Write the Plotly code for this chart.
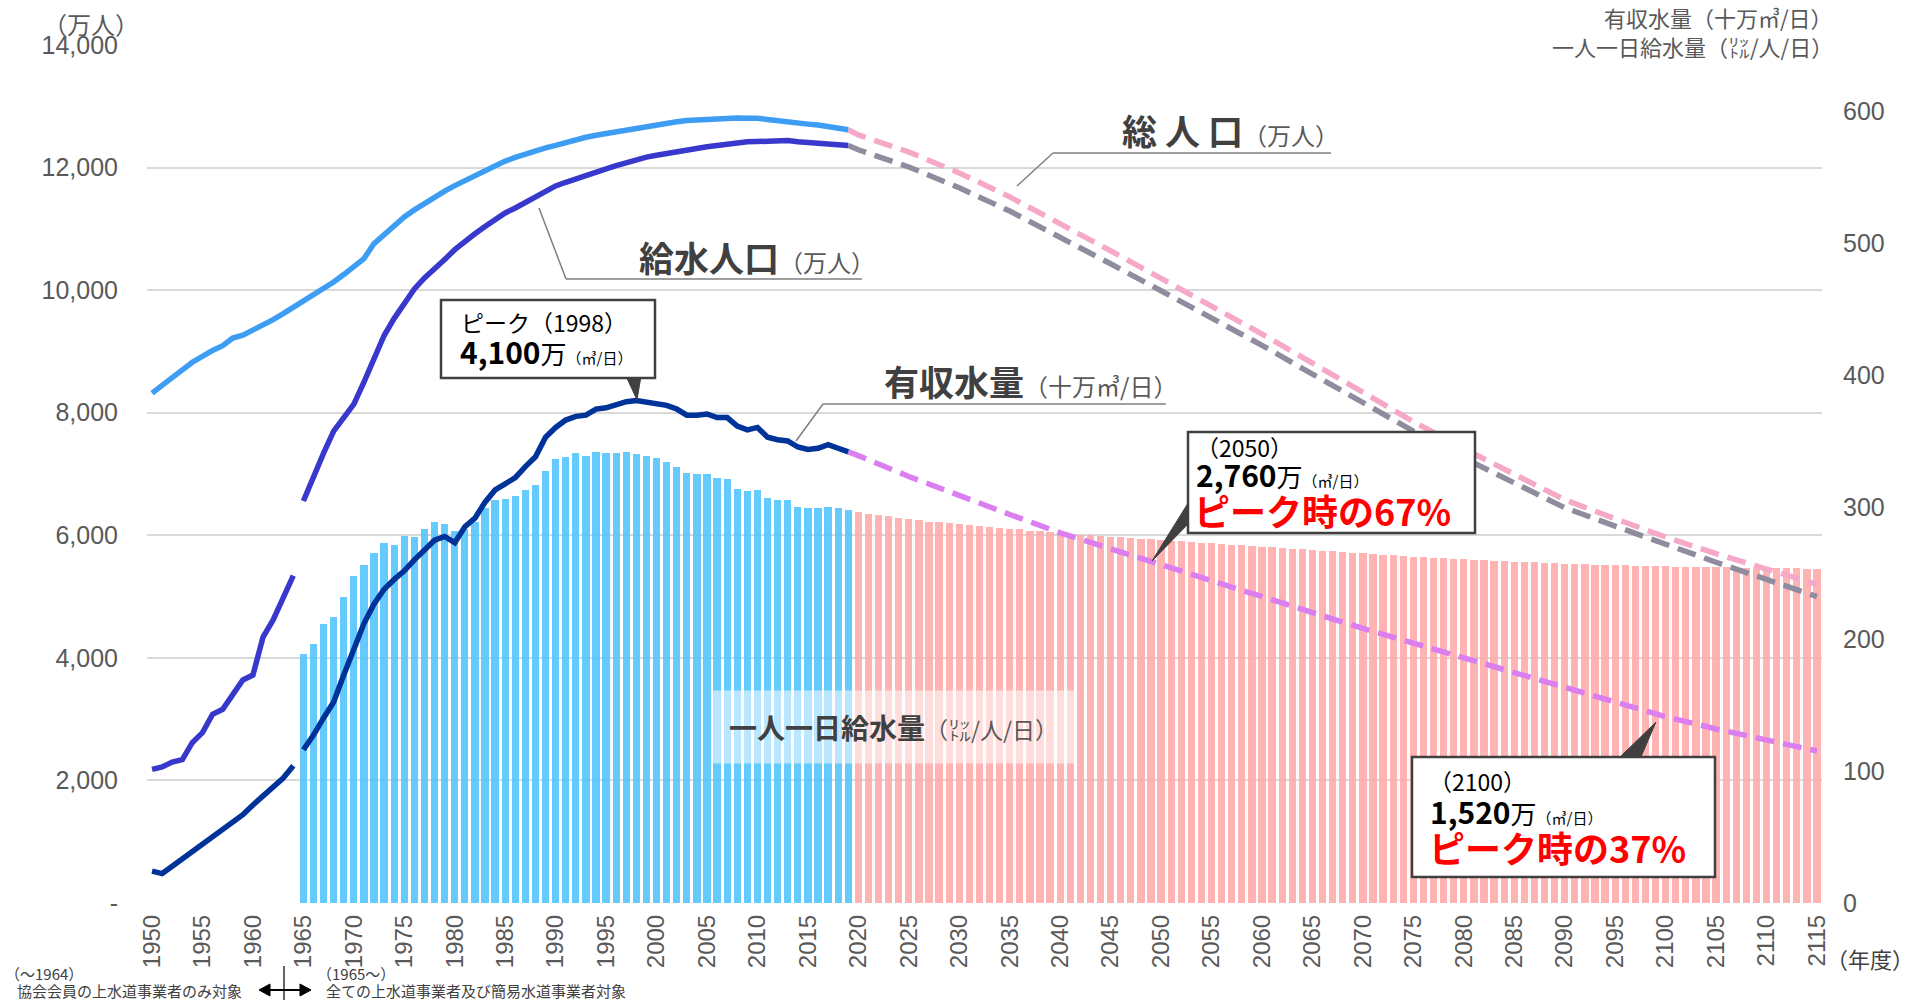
import plotly.graph_objects as go

# ---------------- data ----------------
years_a = list(range(1950, 1965))          # 協会会員のみ対象
years_b = list(range(1965, 2020))          # 全事業者対象
years_hist = list(range(1950, 2020))
years_proj = [2019, 2020, 2025, 2030, 2035, 2040, 2045, 2050, 2055, 2060, 2065,
              2070, 2075, 2080, 2085, 2090, 2095, 2100, 2105, 2110, 2115]
years_bar_proj = list(range(2020, 2116))

# 総人口（万人）
total_pop = [8320, 8454, 8581, 8698, 8824, 8928, 9017, 9093, 9218, 9264,
             9342, 9429, 9518, 9616, 9718, 9828, 9904, 10020, 10133, 10254,
             10372, 10515, 10760, 10910, 11057, 11194, 11309, 11417, 11519, 11616,
             11706, 11790, 11873, 11954, 12031, 12105, 12166, 12224, 12275, 12321,
             12361, 12410, 12457, 12494, 12527, 12557, 12586, 12616, 12649, 12667,
             12693, 12732, 12749, 12769, 12779, 12777, 12790, 12803, 12808, 12803,
             12806, 12783, 12759, 12741, 12724, 12709, 12693, 12671, 12644, 12617]
total_pop_proj = [12617, 12532, 12254, 11913, 11522, 11092, 10642, 10192, 9744, 9284, 8808,
                  8323, 7856, 7413, 6989, 6580, 6270, 5972, 5700, 5440, 5200]

# 給水人口（万人）
supply_pop_a = [2180, 2220, 2300, 2340, 2620, 2780, 3080, 3160, 3400, 3640,
                3720, 4340, 4620, 4980, 5340]
supply_pop_b = [6560, 6980, 7340, 7700, 7920, 8140, 8500, 8900, 9260, 9540,
                9780, 10020, 10200, 10340, 10500, 10660, 10800, 10920, 11040, 11160,
                11260, 11340, 11430, 11520, 11600, 11700, 11760, 11820, 11880, 11930,
                11980, 12030, 12080, 12130, 12170, 12200, 12230, 12270, 12300, 12320,
                12340, 12360, 12390, 12400, 12420, 12430, 12440, 12440, 12440, 12420,
                12410, 12400, 12390, 12370, 12360]
supply_pop_proj = [12360, 12290, 12010, 11670, 11290, 10870, 10430, 9990, 9550, 9100, 8630,
                   8160, 7700, 7260, 6850, 6450, 6150, 5850, 5560, 5280, 5000]

# 有収水量（万㎥/日）
revenue_water_a = [260, 240, 300, 360, 425, 485, 540, 600, 660, 720,
                   800, 870, 940, 1020, 1120]
revenue_water_b = [1250, 1370, 1510, 1640, 1860, 2080, 2280, 2440, 2560, 2640,
                   2710, 2800, 2880, 2960, 2990, 2940, 3070, 3140, 3270, 3370,
                   3420, 3470, 3560, 3640, 3800, 3880, 3940, 3970, 3980, 4030,
                   4040, 4070, 4090, 4100, 4090, 4080, 4060, 4030, 3980, 3980,
                   3990, 3960, 3960, 3890, 3860, 3880, 3800, 3780, 3770, 3720,
                   3700, 3710, 3740, 3710, 3680]
revenue_water_proj = [3680, 3650, 3480, 3320, 3170, 3020, 2890, 2760, 2620, 2490, 2360,
                      2240, 2120, 2000, 1880, 1760, 1640, 1520, 1420, 1330, 1240]

# 一人一日給水量（㍑/人/日）
per_capita_hist = [189, 196, 211, 217, 232, 248, 256, 265, 273, 271,
                   278, 277, 283, 289, 287, 282, 283, 289, 299, 305,
                   306, 308, 313, 317, 327, 336, 338, 341, 339, 342,
                   341, 341, 342, 340, 339, 337, 334, 330, 326, 325,
                   325, 322, 321, 314, 312, 313, 307, 305, 305, 300,
                   299, 299, 300, 299, 298]
per_capita_proj = [296, 295, 294, 293, 292, 291, 290, 289, 288.5, 288,
                   287, 286, 285.5, 285, 284, 283.5, 283, 282, 281.5, 281,
                   280, 279.5, 279, 278.5, 278, 277.5, 277, 276.5, 276, 275.5,
                   275, 274.5, 274, 273.5, 273, 272.5, 272, 271.5, 271, 270.5,
                   270, 269.5, 269, 268.5, 268, 267.5, 267, 266.5, 266, 265.5,
                   265, 264.5, 264, 263.5, 263, 262.5, 262, 261.5, 261, 260.7,
                   260.4, 260, 259.7, 259.4, 259, 258.7, 258.4, 258, 257.7, 257.4,
                   257, 256.8, 256.6, 256.4, 256.2, 256, 255.8, 255.6, 255.4, 255.2,
                   255, 254.8, 254.6, 254.5, 254.4, 254.3, 254.2, 254.1, 254, 253.9,
                   253.8, 253.7, 253.6, 253.5, 253.4, 253.3]

x_ticks = list(range(1950, 2116, 5))
left_ticks = [0, 2000, 4000, 6000, 8000, 10000, 12000, 14000]
left_tick_text = ["-", "2,000", "4,000", "6,000", "8,000", "10,000", "12,000", "14,000"]
right_ticks = [0, 100, 200, 300, 400, 500, 600]

# ---------------- layout helpers ----------------
W, H = 1921, 1001
L, R, T, B = 147, 1822, 45, 903


def px(x):
    return (x - L) / (R - L)


def py(y):
    return (B - y) / (B - T)


JP = "Noto Sans CJK JP"
NUM = "Liberation Sans, Arial, sans-serif"
GRAY = "#595959"
DARK = "#404040"

fig = go.Figure()

# bars (main subplot, right axis)
fig.add_trace(go.Bar(x=years_b, y=per_capita_hist, width=0.72,
                     marker=dict(color="#55C6FF", line=dict(width=0)), opacity=0.9,
                     yaxis="y", xaxis="x"))
fig.add_trace(go.Bar(x=years_bar_proj, y=per_capita_proj, width=0.72,
                     marker=dict(color="#FFABAB", line=dict(width=0)), opacity=0.9,
                     yaxis="y", xaxis="x"))

LW = 5.5
DASH = "19px,9px"
# 総人口
fig.add_trace(go.Scatter(x=years_proj, y=total_pop_proj, mode="lines", yaxis="y2",
                         line=dict(color="#F5A8C8", width=LW, dash=DASH)))
fig.add_trace(go.Scatter(x=years_hist, y=total_pop, mode="lines", yaxis="y2",
                         line=dict(color="#3D9DF3", width=LW)))
# 給水人口
fig.add_trace(go.Scatter(x=years_proj, y=supply_pop_proj, mode="lines", yaxis="y2",
                         line=dict(color="#8E8C9E", width=LW, dash=DASH)))
fig.add_trace(go.Scatter(x=years_a, y=supply_pop_a, mode="lines", yaxis="y2",
                         line=dict(color="#3838CC", width=LW)))
fig.add_trace(go.Scatter(x=years_b, y=supply_pop_b, mode="lines", yaxis="y2",
                         line=dict(color="#3838CC", width=LW)))
# 有収水量
fig.add_trace(go.Scatter(x=years_proj, y=revenue_water_proj, mode="lines", yaxis="y3",
                         line=dict(color="#DA7EF0", width=LW, dash=DASH)))
fig.add_trace(go.Scatter(x=years_a, y=revenue_water_a, mode="lines", yaxis="y3",
                         line=dict(color="#003399", width=LW)))
fig.add_trace(go.Scatter(x=years_b, y=revenue_water_b, mode="lines", yaxis="y3",
                         line=dict(color="#003399", width=LW)))

shapes = []


def pline(pts, color="#7F7F7F", width=1.5):
    for (x0, y0), (x1, y1) in zip(pts[:-1], pts[1:]):
        shapes.append(dict(type="line", xref="paper", yref="paper",
                           x0=px(x0), y0=py(y0), x1=px(x1), y1=py(y1),
                           line=dict(color=color, width=width)))


def tri(pts, color=DARK):
    path = "M " + " L ".join(f"{px(x)},{py(y)}" for x, y in pts) + " Z"
    shapes.append(dict(type="path", xref="paper", yref="paper", path=path,
                       fillcolor=color, line=dict(color=color, width=1)))


def box(x0, y0, x1, y1):
    shapes.append(dict(type="rect", xref="paper", yref="paper",
                       x0=px(x0), y0=py(y0), x1=px(x1), y1=py(y1),
                       fillcolor="white", line=dict(color=DARK, width=2.5)))


# leader lines
pline([(1017, 186), (1053, 153), (1331, 153)])
pline([(539, 208), (566, 279), (862, 279)])
pline([(796, 441), (823, 404), (1166, 404)])

# callout boxes
tri([(626, 376), (641, 376), (637, 400)])
box(441, 300, 655, 378)
tri([(1190, 500), (1190, 522), (1152, 561)])
box(1188, 432, 1475, 533)
tri([(1618, 759), (1640, 759), (1656, 722)])
box(1412, 757, 1715, 877)

# footnote arrow
pline([(266, 990), (304, 990)], color="#000000", width=2)
tri([(259, 990), (270, 984), (270, 996)], color="#000000")
tri([(311, 990), (300, 984), (300, 996)], color="#000000")
pline([(284, 966), (284, 1000)], color="#000000", width=1.2)

ann = []


def text(x, y, s, size, color=DARK, xanchor="left", bg=None, family=JP, pad=0):
    d = dict(xref="paper", yref="paper", x=px(x), y=py(y), text=s, showarrow=False,
             xanchor=xanchor, yanchor="middle", font=dict(family=family, size=size, color=color),
             borderpad=pad)
    if bg:
        d["bgcolor"] = bg
    ann.append(d)


text(91, 23, "（万人）", 24, GRAY, xanchor="center")
text(1834, 17, "有収水量（十万㎥/日）", 22, GRAY, xanchor="right")
text(1834, 46, "一人一日給水量（㍑/人/日）", 22, GRAY, xanchor="right")
text(1870, 958, "（年度）", 22, DARK, xanchor="center")

text(1121, 129, "<b>総 人 口</b><span style='font-size:24px;color:#595959'>（万人）</span>", 35)
text(638, 256, "<b>給水人口</b><span style='font-size:24px;color:#595959'>（万人）</span>", 35)
text(883, 381, "<b>有収水量</b><span style='font-size:24px;color:#595959'>（十万㎥/日）</span>", 35)
text(893, 727, "<b>一人一日給水量</b><span style='font-size:23px;color:#595959'>（㍑/人/日）</span>",
     28, xanchor="center", bg="rgba(255,255,255,0.55)", pad=16)

# peak box
text(460, 322, "ピーク（1998）", 23, "#000000")
text(459, 351, "<b>4,100</b><span style='font-size:26px'>万</span>"
               "<span style='font-size:15px'>（㎥/日）</span>", 30, "#000000")
# 2050 box
text(1195, 447, "（2050）", 23, "#000000")
text(1195, 474, "<b>2,760</b><span style='font-size:26px'>万</span>"
                "<span style='font-size:15px'>（㎥/日）</span>", 30, "#000000")
text(1193, 510, "<b>ピーク時の67%</b>", 36, "#FF0000")
# 2100 box
text(1428, 781, "（2100）", 23, "#000000")
text(1429, 811, "<b>1,520</b><span style='font-size:26px'>万</span>"
                "<span style='font-size:15px'>（㎥/日）</span>", 30, "#000000")
text(1428, 847, "<b>ピーク時の37%</b>", 36, "#FF0000")

# footnotes
text(4, 973, "（～1964）", 15, DARK)
text(16, 990, "協会会員の上水道事業者のみ対象", 15, DARK)
text(316, 973, "（1965～）", 15, DARK)
text(325, 990, "全ての上水道事業者及び簡易水道事業者対象", 15, DARK)

fig.update_layout(
    width=W, height=H,
    margin=dict(l=L, r=W - R, t=T, b=H - B, pad=0),
    paper_bgcolor="white", plot_bgcolor="white",
    showlegend=False, barmode="overlay", bargap=0,
    xaxis=dict(range=[1949.5, 2115.5], tickmode="array", tickvals=x_ticks,
               tickangle=-90, tickfont=dict(family=NUM, size=24, color=GRAY),
               showgrid=False, zeroline=False, showline=False, ticks="",
               ticklabelstandoff=6, fixedrange=True),
    yaxis=dict(range=[0, 650], side="right", tickmode="array", tickvals=right_ticks,
               tickfont=dict(family=NUM, size=25, color=GRAY), showgrid=False,
               zeroline=False, showline=False, ticks="", ticklabelstandoff=20),
    yaxis2=dict(range=[0, 14000], overlaying="y", side="left", tickmode="array",
                tickvals=left_ticks, ticktext=left_tick_text,
                tickfont=dict(family=NUM, size=25, color=GRAY), showgrid=True,
                gridcolor="#D9D9D9", gridwidth=1.5, zeroline=False, showline=False,
                ticks="", ticklabelstandoff=28),
    yaxis3=dict(range=[0, 7000], overlaying="y", visible=False),
    shapes=shapes, annotations=ann,
)

fig.write_html("out.html", config={"displayModeBar": False},
               post_script="document.body.style.margin='0';document.body.style.overflow='hidden';")
